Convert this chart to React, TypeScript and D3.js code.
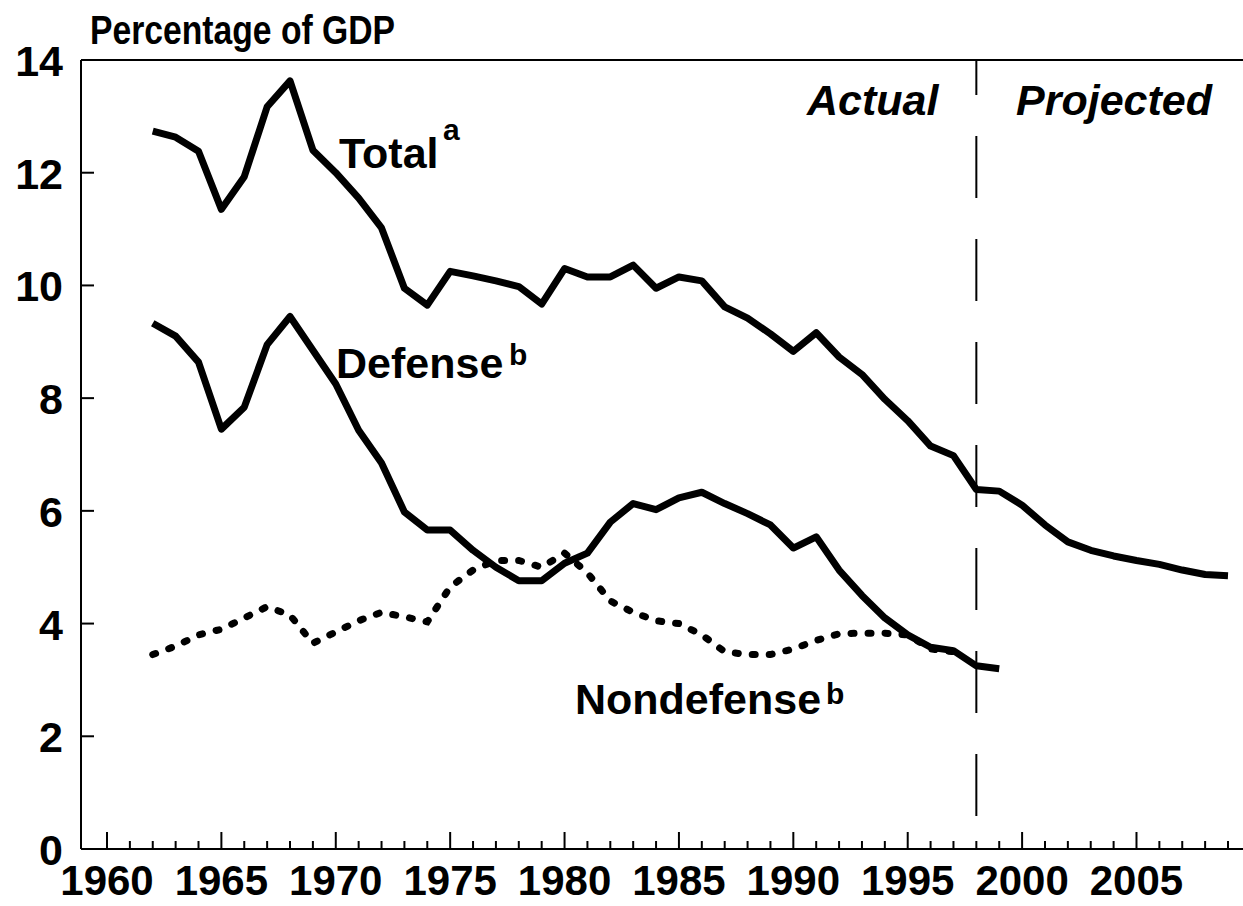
import React, { useRef, useEffect } from 'react';
import * as d3 from 'd3';

// years 1962-2009 (actual through 1998, projected after)
const years: number[] = [
  1962, 1963, 1964, 1965, 1966, 1967, 1968, 1969, 1970, 1971,
  1972, 1973, 1974, 1975, 1976, 1977, 1978, 1979, 1980, 1981,
  1982, 1983, 1984, 1985, 1986, 1987, 1988, 1989, 1990, 1991,
  1992, 1993, 1994, 1995, 1996, 1997, 1998, 1999, 2000, 2001,
  2002, 2003, 2004, 2005, 2006, 2007, 2008, 2009,
];

const totalValues: number[] = [
  12.74, 12.63, 12.38, 11.35, 11.93, 13.17, 13.63, 12.4, 12.0, 11.55,
  11.02, 9.95, 9.65, 10.25, 10.17, 10.08, 9.98, 9.67, 10.3, 10.15,
  10.15, 10.36, 9.95, 10.15, 10.08, 9.62, 9.42, 9.14, 8.83, 9.16,
  8.73, 8.42, 7.98, 7.6, 7.15, 6.98, 6.38, 6.35, 6.1, 5.75,
  5.45, 5.3, 5.2, 5.12, 5.05, 4.95, 4.87, 4.85,
];

const defenseValues: number[] = [
  9.33, 9.1, 8.64, 7.45, 7.84, 8.95, 9.45, 8.85, 8.25, 7.43,
  6.85, 5.98, 5.66, 5.66, 5.3, 5.0, 4.76, 4.76, 5.07, 5.25,
  5.8, 6.13, 6.02, 6.23, 6.33, 6.13, 5.95, 5.75, 5.34, 5.54,
  4.95, 4.5, 4.1, 3.8, 3.58, 3.52, 3.25, 3.2,
];

const nondefenseValues: number[] = [
  3.45, 3.6, 3.8, 3.9, 4.1, 4.3, 4.15, 3.65, 3.85, 4.05,
  4.2, 4.12, 4.03, 4.65, 4.95, 5.12, 5.12, 5.0, 5.25, 4.9,
  4.4, 4.2, 4.05, 4.0, 3.8, 3.5, 3.45, 3.45, 3.55, 3.7,
  3.82, 3.83, 3.83, 3.8, 3.55, 3.5,
];

const yTicks: number[] = [0, 2, 4, 6, 8, 10, 12, 14];
const xLabelYears: number[] = [1960, 1965, 1970, 1975, 1980, 1985, 1990, 1995, 2000, 2005];
const splitYear = 1998;

const FONT = '"Liberation Sans", Arial, Helvetica, sans-serif';

const App: React.FC = () => {
  const svgRef = useRef<SVGSVGElement | null>(null);

  useEffect(() => {
    const svg = d3.select(svgRef.current);
    svg.selectAll('*').remove();

    const width = 1243;
    const left = 81;
    const top = 60;
    const bottom = 849;

    const x = d3.scaleLinear().domain([1960, 2009]).range([107, 1228]);
    const y = d3.scaleLinear().domain([0, 14]).range([bottom, top]);

    // frame: left axis, bottom axis, top rule
    svg.append('line')
      .attr('x1', left).attr('x2', left).attr('y1', top).attr('y2', bottom)
      .attr('stroke', '#000').attr('stroke-width', 2);
    svg.append('line')
      .attr('x1', left).attr('x2', width).attr('y1', bottom).attr('y2', bottom)
      .attr('stroke', '#000').attr('stroke-width', 2);
    svg.append('line')
      .attr('x1', left).attr('x2', width).attr('y1', top).attr('y2', top)
      .attr('stroke', '#000').attr('stroke-width', 2);

    // year ticks pointing up, taller every 5 years
    const tickYears = d3.range(1960, 2010);
    svg.append('g')
      .selectAll('line')
      .data(tickYears)
      .join('line')
      .attr('x1', d => x(d))
      .attr('x2', d => x(d))
      .attr('y1', bottom)
      .attr('y2', d => (d % 5 === 0 ? bottom - 17 : bottom - 8))
      .attr('stroke', '#000')
      .attr('stroke-width', 2);

    svg.append('g')
      .selectAll('text')
      .data(xLabelYears)
      .join('text')
      .attr('x', d => x(d))
      .attr('y', 895)
      .attr('text-anchor', 'middle')
      .attr('font-family', FONT)
      .attr('font-weight', 'bold')
      .attr('font-size', 42)
      .text(d => d);

    // y ticks pointing right
    svg.append('g')
      .selectAll('line')
      .data(yTicks)
      .join('line')
      .attr('x1', left)
      .attr('x2', left + 13)
      .attr('y1', d => y(d))
      .attr('y2', d => y(d))
      .attr('stroke', '#000')
      .attr('stroke-width', 2);

    svg.append('g')
      .selectAll('text')
      .data(yTicks)
      .join('text')
      .attr('x', 63)
      .attr('y', d => y(d) + 16)
      .attr('text-anchor', 'end')
      .attr('font-family', FONT)
      .attr('font-weight', 'bold')
      .attr('font-size', 43)
      .text(d => d);

    // actual / projected divider
    svg.append('line')
      .attr('x1', x(splitYear)).attr('x2', x(splitYear))
      .attr('y1', top).attr('y2', bottom)
      .attr('stroke', '#000')
      .attr('stroke-width', 2)
      .attr('stroke-dasharray', '62,41')
      .attr('stroke-dashoffset', 27);

    const line = d3.line<number>()
      .x((_, i) => x(years[i]))
      .y(d => y(d));

    svg.append('path')
      .attr('d', line(totalValues))
      .attr('fill', 'none')
      .attr('stroke', '#000')
      .attr('stroke-width', 7)
      .attr('stroke-linejoin', 'round');

    svg.append('path')
      .attr('d', line(defenseValues))
      .attr('fill', 'none')
      .attr('stroke', '#000')
      .attr('stroke-width', 7)
      .attr('stroke-linejoin', 'round');

    svg.append('path')
      .attr('d', line(nondefenseValues))
      .attr('fill', 'none')
      .attr('stroke', '#000')
      .attr('stroke-width', 7)
      .attr('stroke-linecap', 'round')
      .attr('stroke-dasharray', '3,14');

    // labels
    const label = (tx: number, ty: number, txt: string, size = 43, italic = false) =>
      svg.append('text')
        .attr('x', tx)
        .attr('y', ty)
        .attr('font-family', FONT)
        .attr('font-weight', 'bold')
        .attr('font-style', italic ? 'italic' : 'normal')
        .attr('font-size', size)
        .text(txt);

    label(90, 44, 'Percentage of GDP', 40)
      .attr('textLength', 305)
      .attr('lengthAdjust', 'spacingAndGlyphs');

    label(339, 168, 'Total');
    label(443, 140, 'a', 30);
    label(336, 378, 'Defense');
    label(509, 365, 'b', 30);
    label(575, 714, 'Nondefense');
    label(826, 704, 'b', 30);

    label(807, 115, 'Actual', 43, true);
    label(1016, 115, 'Projected', 43, true);
  }, []);

  return (
    <svg
      ref={svgRef}
      width={1243}
      height={906}
      style={{ position: 'absolute', left: 0, top: 0, background: '#fff' }}
    ></svg>
  );
};

export default App;
